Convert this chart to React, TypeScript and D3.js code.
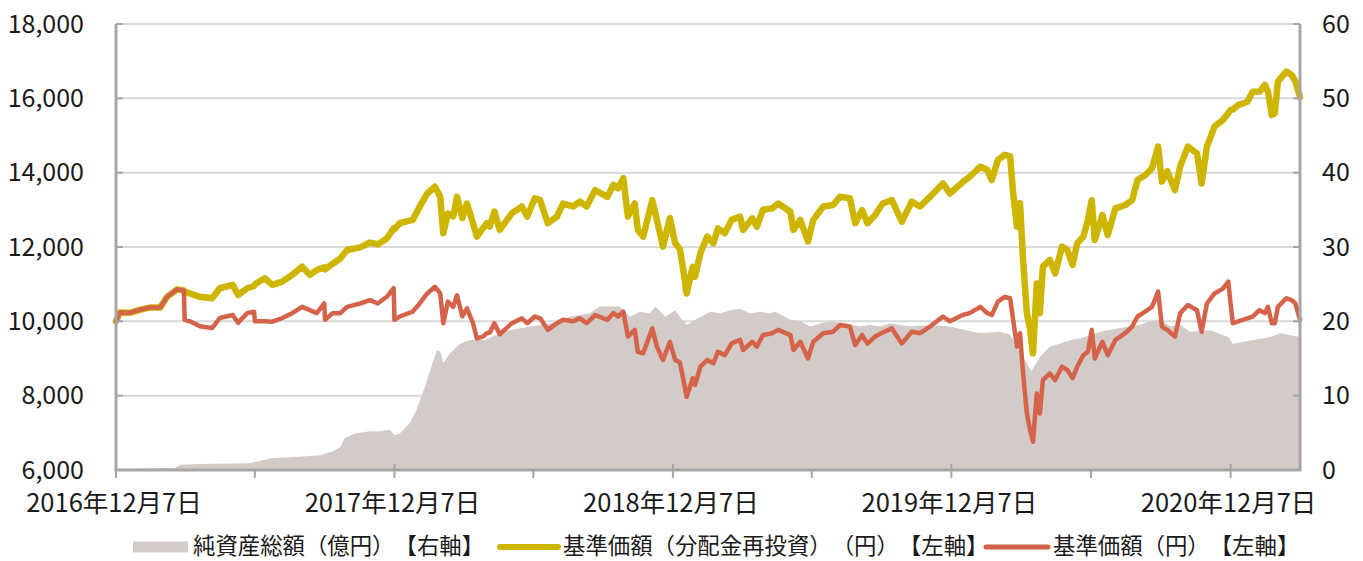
import React, { useEffect, useRef } from "react";
import * as d3 from "d3";

// 基準価額（分配金再投資）と基準価額の日付
const priceDates = [
  "2016-12-07", "2016-12-12", "2016-12-25", "2017-01-07", "2017-01-20", "2017-02-03", "2017-02-12", "2017-02-25",
  "2017-03-06", "2017-03-07", "2017-03-14", "2017-03-27", "2017-04-12", "2017-04-22", "2017-05-09", "2017-05-16",
  "2017-05-28", "2017-06-06", "2017-06-07", "2017-06-20", "2017-06-30", "2017-07-13", "2017-07-26", "2017-08-08",
  "2017-08-18", "2017-08-27", "2017-09-06", "2017-09-07", "2017-09-17", "2017-09-27", "2017-10-06", "2017-10-23",
  "2017-11-05", "2017-11-15", "2017-11-27", "2017-12-06", "2017-12-07", "2017-12-14", "2017-12-31", "2018-01-09",
  "2018-01-19", "2018-01-29", "2018-02-05", "2018-02-09", "2018-02-15", "2018-02-22", "2018-02-27", "2018-03-06",
  "2018-03-12", "2018-03-20", "2018-03-25", "2018-04-02", "2018-04-07", "2018-04-11", "2018-04-17", "2018-04-24",
  "2018-05-10", "2018-05-23", "2018-05-30", "2018-06-09", "2018-06-16", "2018-06-26", "2018-07-08", "2018-07-16",
  "2018-07-29", "2018-08-07", "2018-08-16", "2018-08-27", "2018-09-12", "2018-09-20", "2018-09-26", "2018-10-03",
  "2018-10-09", "2018-10-18", "2018-10-22", "2018-10-29", "2018-11-10", "2018-11-16", "2018-11-24", "2018-12-03",
  "2018-12-10", "2018-12-16", "2018-12-20", "2018-12-25", "2019-01-02", "2019-01-05", "2019-01-12", "2019-01-21",
  "2019-01-29", "2019-02-04", "2019-02-13", "2019-02-22", "2019-03-05", "2019-03-09", "2019-03-21", "2019-03-27",
  "2019-04-04", "2019-04-16", "2019-04-24", "2019-05-10", "2019-05-14", "2019-05-23", "2019-06-02", "2019-06-09",
  "2019-06-22", "2019-07-05", "2019-07-14", "2019-07-27", "2019-08-03", "2019-08-12", "2019-08-19", "2019-08-29",
  "2019-09-08", "2019-09-20", "2019-10-03", "2019-10-16", "2019-10-27", "2019-11-09", "2019-11-26", "2019-12-05",
  "2019-12-22", "2019-12-31", "2020-01-14", "2020-01-23", "2020-01-29", "2020-02-06", "2020-02-15", "2020-02-22",
  "2020-02-26", "2020-03-02", "2020-03-06", "2020-03-10", "2020-03-15", "2020-03-19", "2020-03-23", "2020-03-28",
  "2020-04-01", "2020-04-05", "2020-04-14", "2020-04-21", "2020-04-30", "2020-05-07", "2020-05-14", "2020-05-20",
  "2020-05-28", "2020-06-03", "2020-06-08", "2020-06-12", "2020-06-22", "2020-06-29", "2020-07-09", "2020-07-22",
  "2020-07-31", "2020-08-07", "2020-08-17", "2020-08-26", "2020-09-03", "2020-09-08", "2020-09-15", "2020-09-25",
  "2020-10-02", "2020-10-12", "2020-10-24", "2020-10-30", "2020-11-06", "2020-11-16", "2020-11-27", "2020-12-04",
  "2020-12-07", "2020-12-10", "2020-12-17", "2020-12-29", "2021-01-05", "2021-01-14", "2021-01-21", "2021-01-25",
  "2021-01-30", "2021-02-03", "2021-02-07", "2021-02-18", "2021-02-25", "2021-03-02", "2021-03-08",
];

// 基準価額（分配金再投資）（円）
const navReinvested = [
  10000, 10240, 10230, 10310, 10370, 10370, 10660, 10860,
  10830, 10800, 10750, 10660, 10620, 10890, 10980, 10710,
  10890, 10950, 11000, 11160, 10980, 11070, 11250, 11470,
  11250, 11380, 11450, 11400, 11550, 11690, 11920, 11990,
  12120, 12070, 12230, 12500, 12480, 12640, 12730, 13080,
  13440, 13620, 13350, 12370, 12900, 12820, 13350, 12780,
  13170, 12640, 12280, 12500, 12640, 12550, 12950, 12460,
  12910, 13090, 12820, 13310, 13260, 12640, 12820, 13170,
  13090, 13220, 13090, 13530, 13350, 13670, 13580, 13850,
  12820, 13170, 12460, 12280, 13260, 12730, 12010, 12780,
  12100, 11950, 11470, 10750, 11470, 11200, 11830, 12280,
  12100, 12500, 12370, 12730, 12820, 12460, 12770, 12550,
  13000, 13040, 13170, 12950, 12460, 12730, 12150, 12730,
  13090, 13130, 13350, 13310, 12640, 12990, 12640, 12860,
  13170, 13260, 12680, 13220, 13090, 13350, 13710, 13440,
  13750, 13890, 14160, 14080, 13800, 14340, 14480, 14440,
  13440, 12550, 13180, 11650, 10220, 9800, 9140, 11020,
  10220, 11470, 11650, 11290, 12010, 11920, 11520, 12100,
  12280, 12730, 13260, 12190, 12860, 12320, 13040, 13130,
  13260, 13800, 13930, 14120, 14700, 13760, 14040, 13530,
  14170, 14700, 14520, 13710, 14700, 15240, 15420, 15600,
  15690, 15700, 15820, 15910, 16180, 16180, 16360, 16180,
  15550, 15600, 16450, 16720, 16630, 16450, 16040,
];

// 基準価額（円）
const nav = [
  10000, 10240, 10230, 10310, 10370, 10370, 10660, 10860,
  10830, 10040, 10000, 9870, 9820, 10090, 10170, 9960,
  10220, 10260, 10000, 10000, 9990, 10090, 10220, 10390,
  10300, 10220, 10480, 10040, 10220, 10220, 10390, 10480,
  10570, 10480, 10660, 10890, 10040, 10130, 10260, 10480,
  10750, 10930, 10750, 9950, 10530, 10390, 10700, 10130,
  10350, 9950, 9540, 9590, 9680, 9700, 9950, 9650,
  9950, 10080, 9950, 10130, 10080, 9770, 9950, 10040,
  10000, 10080, 9950, 10170, 10040, 10220, 10130, 10260,
  9590, 9770, 9180, 9140, 9810, 9320, 8960, 9450,
  8960, 8900, 8510, 7970, 8470, 8290, 8780, 8960,
  8870, 9180, 9090, 9410, 9500, 9230, 9450, 9320,
  9630, 9680, 9770, 9630, 9230, 9450, 9000, 9450,
  9680, 9720, 9900, 9860, 9360, 9630, 9400, 9590,
  9700, 9810, 9400, 9720, 9680, 9860, 10130, 10000,
  10170, 10220, 10390, 10220, 10170, 10530, 10660, 10620,
  10040, 9320, 9680, 8600, 7520, 7100, 6760, 8060,
  7520, 8420, 8600, 8420, 8780, 8690, 8470, 8780,
  9090, 9180, 9770, 9000, 9450, 9090, 9500, 9680,
  9860, 10130, 10260, 10390, 10800, 9860, 9770, 9590,
  10220, 10440, 10300, 9720, 10480, 10750, 10880, 11070,
  10480, 9950, 10000, 10080, 10130, 10300, 10220, 10390,
  9950, 9950, 10390, 10620, 10570, 10480, 10040,
];

// 純資産総額の日付
const assetDates = [
  "2016-12-07", "2017-01-20", "2017-02-23", "2017-03-01", "2017-03-27", "2017-05-31", "2017-06-13", "2017-06-30",
  "2017-07-23", "2017-08-18", "2017-08-31", "2017-09-17", "2017-09-27", "2017-10-03", "2017-10-16", "2017-11-05",
  "2017-11-18", "2017-12-01", "2017-12-07", "2017-12-14", "2017-12-27", "2018-01-05", "2018-01-16", "2018-01-26",
  "2018-02-01", "2018-02-05", "2018-02-09", "2018-02-18", "2018-03-03", "2018-03-16", "2018-04-05", "2018-04-24",
  "2018-05-07", "2018-06-03", "2018-06-29", "2018-07-25", "2018-08-20", "2018-09-02", "2018-09-15", "2018-09-28",
  "2018-10-12", "2018-10-25", "2018-11-07", "2018-11-14", "2018-11-27", "2018-12-10", "2018-12-16", "2018-12-25",
  "2019-01-05", "2019-01-25", "2019-02-07", "2019-02-20", "2019-03-05", "2019-03-18", "2019-03-31", "2019-04-13",
  "2019-04-20", "2019-05-10", "2019-05-23", "2019-06-05", "2019-06-18", "2019-07-01", "2019-07-21", "2019-08-09",
  "2019-08-22", "2019-09-04", "2019-09-18", "2019-10-14", "2019-11-09", "2019-12-05", "2019-12-26", "2020-01-14",
  "2020-02-09", "2020-02-22", "2020-03-02", "2020-03-12", "2020-03-21", "2020-04-01", "2020-04-14", "2020-04-27",
  "2020-05-11", "2020-05-24", "2020-06-19", "2020-07-15", "2020-08-10", "2020-08-23", "2020-09-06", "2020-09-19",
  "2020-10-02", "2020-10-15", "2020-11-10", "2020-12-04", "2020-12-10", "2021-01-01", "2021-01-28", "2021-02-10",
  "2021-03-08",
];

// 純資産総額（億円）
const netAssets = [
  0.1, 0.2, 0.3, 0.7, 0.8, 0.9, 1.2, 1.6,
  1.7, 1.9, 2.0, 2.5, 3.1, 4.3, 4.9, 5.2,
  5.2, 5.4, 4.7, 4.9, 6.3, 8.1, 11.2, 14.4,
  16.1, 15.9, 14.4, 15.7, 17.0, 17.5, 17.5, 18.4,
  18.8, 19.3, 19.7, 20.6, 21.1, 22.0, 22.0, 22.0,
  20.6, 21.3, 21.1, 22.0, 20.6, 21.5, 20.6, 19.5,
  20.2, 21.3, 21.1, 21.5, 21.7, 21.1, 21.3, 21.1,
  21.3, 20.2, 20.0, 19.3, 19.7, 20.0, 19.7, 19.3,
  19.5, 19.3, 19.7, 19.3, 19.5, 19.3, 18.8, 18.4,
  18.6, 18.2, 16.6, 14.8, 13.3, 15.2, 16.6, 17.0,
  17.5, 17.7, 18.6, 19.1, 19.5, 20.0, 20.2, 19.3,
  19.5, 18.6, 18.8, 17.9, 17.0, 17.4, 17.9, 18.4,
  17.9,
];

const leftTicks = [6000, 8000, 10000, 12000, 14000, 16000, 18000];
const rightTicks = [0, 10, 20, 30, 40, 50, 60];
const xTickDates = [
  "2016-12-07", "2017-06-07", "2017-12-07", "2018-06-07", "2018-12-07",
  "2019-06-07", "2019-12-07", "2020-06-07", "2020-12-07",
];
const xLabelDates = ["2016-12-07", "2017-12-07", "2018-12-07", "2019-12-07", "2020-12-07"];
const legendLabels = [
  "純資産総額（億円）【右軸】",
  "基準価額（分配金再投資）（円）【左軸】",
  "基準価額（円）【左軸】",
];

const App = () => {
  const svgRef = useRef<SVGSVGElement>(null);

  useEffect(() => {
    const svg = d3.select(svgRef.current);
    svg.selectAll("*").remove();

    const width = 1363;
    const height = 561;
    const plot = { left: 116, right: 1300, top: 24, bottom: 470 };
    const font = "'Noto Sans CJK JP', 'Noto Sans', sans-serif";
    const assetColor = "#d2cbc8";
    const reinvestColor = "#cdb500";
    const navColor = "#d4634a";
    const gridColor = "#d9d9d9";
    const axisColor = "#a6a6a6";

    const parse = d3.timeParse("%Y-%m-%d");
    const fmt = d3.timeFormat("%Y年%-m月%-d日");

    svg.attr("width", width).attr("height", height);

    const x = d3
      .scaleTime()
      .domain([parse("2016-12-07")!, parse("2021-03-08")!])
      .range([plot.left, plot.right]);
    const yLeft = d3.scaleLinear().domain([6000, 18000]).range([plot.bottom, plot.top]);
    const yRight = d3.scaleLinear().domain([0, 60]).range([plot.bottom, plot.top]);

    // Gridlines
    svg
      .append("g")
      .selectAll("line")
      .data(leftTicks)
      .join("line")
      .attr("x1", plot.left)
      .attr("x2", plot.right)
      .attr("y1", (d) => yLeft(d))
      .attr("y2", (d) => yLeft(d))
      .attr("stroke", gridColor)
      .attr("stroke-width", 2);

    // Net assets area (right axis)
    const assets = assetDates.map((d, i) => ({ date: parse(d)!, value: netAssets[i] }));
    const area = d3
      .area<{ date: Date; value: number }>()
      .x((d) => x(d.date))
      .y0(yRight(0))
      .y1((d) => yRight(d.value));
    svg.append("path").datum(assets).attr("d", area).attr("fill", assetColor);

    // Price lines (left axis)
    const prices = priceDates.map((d, i) => ({
      date: parse(d)!,
      reinvest: navReinvested[i],
      nav: nav[i],
    }));
    const lineReinvest = d3
      .line<(typeof prices)[number]>()
      .x((d) => x(d.date))
      .y((d) => yLeft(d.reinvest));
    const lineNav = d3
      .line<(typeof prices)[number]>()
      .x((d) => x(d.date))
      .y((d) => yLeft(d.nav));

    svg
      .append("path")
      .datum(prices)
      .attr("d", lineReinvest)
      .attr("fill", "none")
      .attr("stroke", reinvestColor)
      .attr("stroke-width", 6.5)
      .attr("stroke-linejoin", "round")
      .attr("stroke-linecap", "round");

    svg
      .append("path")
      .datum(prices)
      .attr("d", lineNav)
      .attr("fill", "none")
      .attr("stroke", navColor)
      .attr("stroke-width", 4.5)
      .attr("stroke-linejoin", "round")
      .attr("stroke-linecap", "round");

    // Axes
    const axes = svg.append("g").attr("stroke", axisColor);
    axes
      .append("line")
      .attr("x1", plot.left)
      .attr("x2", plot.left)
      .attr("y1", plot.top)
      .attr("y2", plot.bottom)
      .attr("stroke-width", 3);
    axes
      .append("line")
      .attr("x1", plot.right)
      .attr("x2", plot.right)
      .attr("y1", plot.top)
      .attr("y2", plot.bottom)
      .attr("stroke-width", 3);
    axes
      .append("line")
      .attr("x1", plot.left - 1.5)
      .attr("x2", plot.right + 1.5)
      .attr("y1", plot.bottom)
      .attr("y2", plot.bottom)
      .attr("stroke-width", 3);

    axes
      .selectAll(".ltick")
      .data(leftTicks)
      .join("line")
      .attr("x1", plot.left)
      .attr("x2", plot.left + 7)
      .attr("y1", (d) => yLeft(d))
      .attr("y2", (d) => yLeft(d))
      .attr("stroke-width", 2);
    axes
      .selectAll(".rtick")
      .data(rightTicks)
      .join("line")
      .attr("x1", plot.right - 7)
      .attr("x2", plot.right)
      .attr("y1", (d) => yRight(d))
      .attr("y2", (d) => yRight(d))
      .attr("stroke-width", 2);
    axes
      .selectAll(".xtick")
      .data(xTickDates)
      .join("line")
      .attr("x1", (d) => x(parse(d)!))
      .attr("x2", (d) => x(parse(d)!))
      .attr("y1", (d) => (xLabelDates.includes(d) ? plot.bottom - 6 : plot.bottom))
      .attr("y2", plot.bottom + 8)
      .attr("stroke-width", 2);

    // Tick labels
    svg
      .append("g")
      .selectAll("text")
      .data(leftTicks)
      .join("text")
      .attr("x", 84)
      .attr("y", (d) => yLeft(d))
      .attr("dy", "0.35em")
      .attr("text-anchor", "end")
      .style("font-family", font)
      .style("font-size", "25px")
      .attr("fill", "#1a1a1a")
      .text((d) => d3.format(",")(d));

    svg
      .append("g")
      .selectAll("text")
      .data(rightTicks)
      .join("text")
      .attr("x", 1322)
      .attr("y", (d) => yRight(d))
      .attr("dy", "0.35em")
      .attr("text-anchor", "start")
      .style("font-family", font)
      .style("font-size", "25px")
      .attr("fill", "#1a1a1a")
      .text((d) => d);

    svg
      .append("g")
      .selectAll("text")
      .data(xLabelDates)
      .join("text")
      .attr("x", (d) => x(parse(d)!) - 2)
      .attr("y", 512)
      .attr("text-anchor", "middle")
      .style("font-family", font)
      .style("font-size", "25.5px")
      .attr("fill", "#1a1a1a")
      .text((d) => fmt(parse(d)!));

    // Legend
    const legend = svg
      .append("g")
      .style("font-family", font)
      .style("font-size", "22.4px")
      .style("text-spacing-trim", "space-all");
    const legendY = 546;
    legend
      .append("rect")
      .attr("x", 133)
      .attr("y", legendY - 4.5)
      .attr("width", 55)
      .attr("height", 11)
      .attr("fill", assetColor);
    legend
      .append("line")
      .attr("x1", 500)
      .attr("x2", 558)
      .attr("y1", legendY + 1)
      .attr("y2", legendY + 1)
      .attr("stroke", reinvestColor)
      .attr("stroke-width", 6)
      .attr("stroke-linecap", "round");
    legend
      .append("line")
      .attr("x1", 986)
      .attr("x2", 1048)
      .attr("y1", legendY + 1)
      .attr("y2", legendY + 1)
      .attr("stroke", navColor)
      .attr("stroke-width", 5)
      .attr("stroke-linecap", "round");

    const legendX = [193, 563, 1053];
    legend
      .selectAll("text")
      .data(legendLabels)
      .join("text")
      .attr("x", (d, i) => legendX[i])
      .attr("y", legendY)
      .attr("dy", "0.36em")
      .attr("fill", "#1a1a1a")
      .text((d) => d);
  }, []);

  return (
    <div style={{ position: "absolute", left: 0, top: 0, background: "#fff" }}>
      <svg ref={svgRef} style={{ display: "block" }}></svg>
    </div>
  );
};

export default App;
